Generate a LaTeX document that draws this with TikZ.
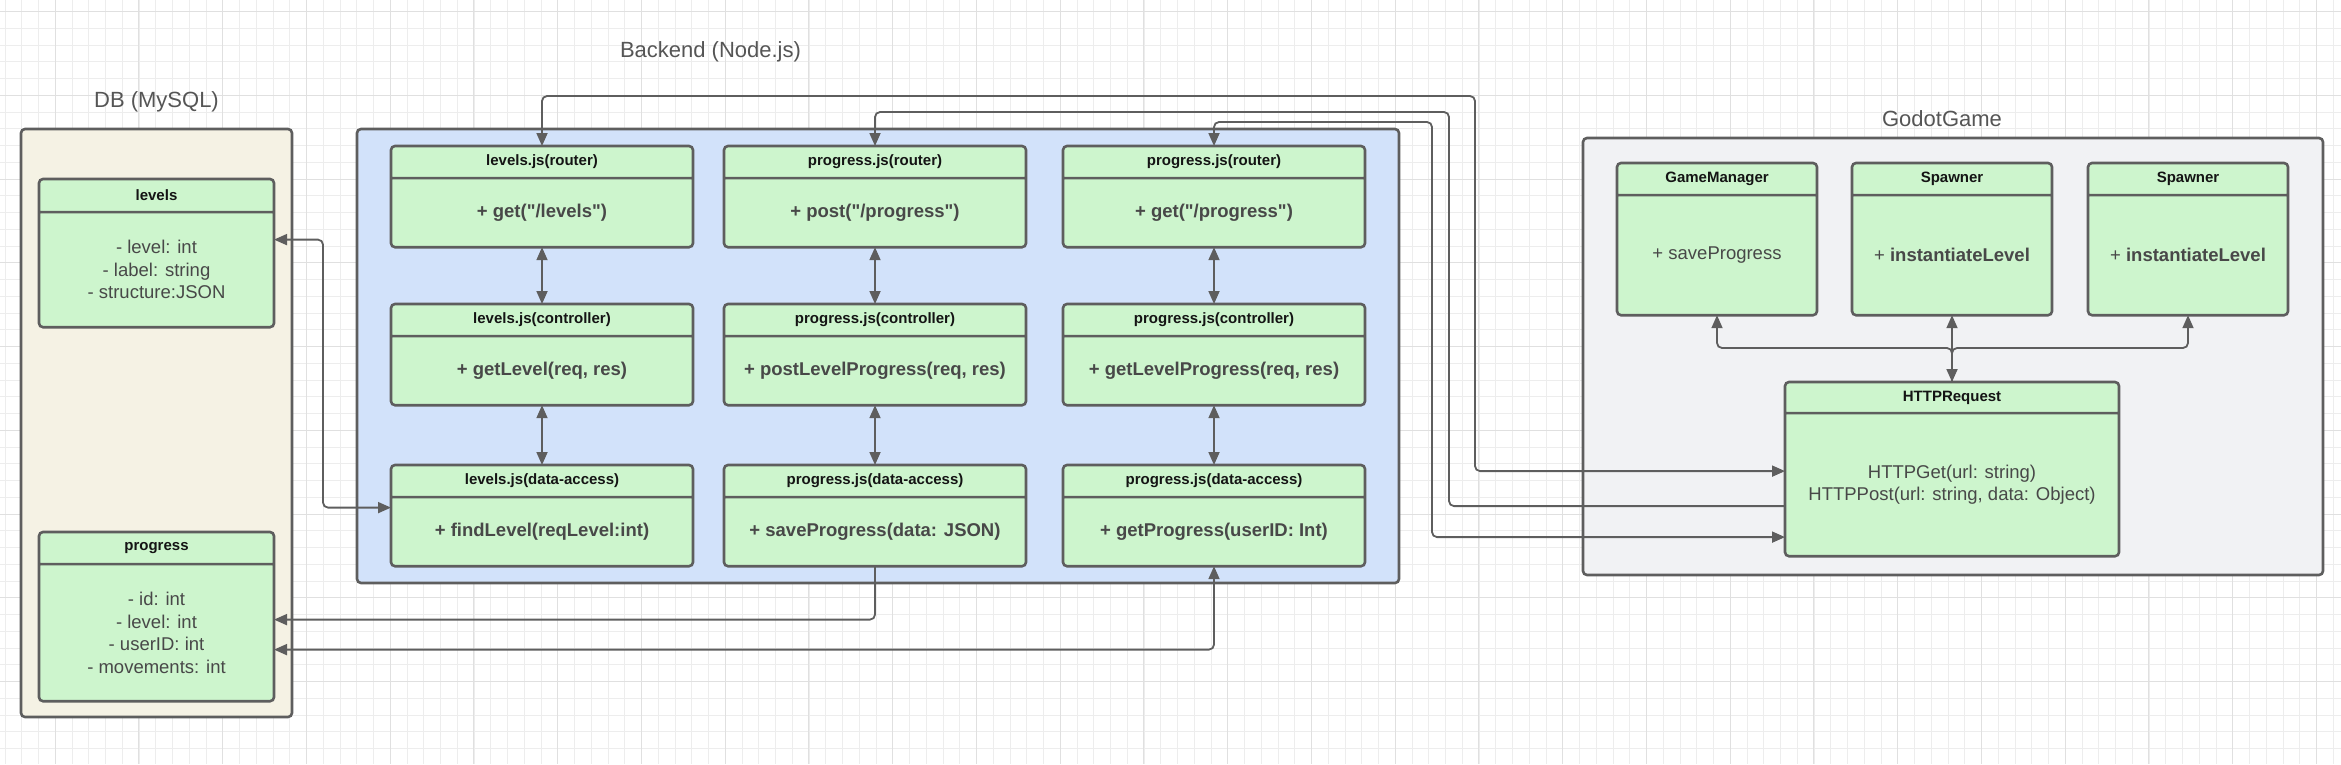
\documentclass[tikz,border=0pt]{standalone}
\usepackage{fontspec}
\setmainfont{Liberation Sans}[Ligatures=TeXOff]
\usepackage{tikz}
\usetikzlibrary{shapes.multipart,arrows.meta}

\definecolor{linegray}{RGB}{94,94,94}
\definecolor{boxgreen}{RGB}{205,245,205}
\definecolor{dbfill}{RGB}{245,242,228}
\definecolor{befill}{RGB}{210,226,250}
\definecolor{gdfill}{RGB}{241,242,244}
\definecolor{headtext}{RGB}{20,20,20}
\definecolor{bodytext}{RGB}{72,72,72}
\definecolor{titletext}{RGB}{85,85,85}
\definecolor{gridminor}{RGB}{237,237,237}
\definecolor{gridmajor}{RGB}{224,224,224}

% width, header height, body height, header, body
\newcommand{\umlparts}[5]{%
\parbox[c][#2pt][c]{#1pt}{\centering\fontsize{15}{18}\selectfont\bfseries\color{headtext}#4}%
\nodepart{two}%
\parbox[c][#3pt][c]{#1pt}{\centering\fontsize{18.5}{22.5}\selectfont\color{bodytext}#5}}

\begin{document}
\begin{tikzpicture}[x=1pt,y=-1pt,>={Triangle[length=13pt,width=11pt]},
every node/.style={inner sep=0pt,outer sep=0pt},
umlclass/.style={rectangle split,rectangle split parts=2,draw=linegray,fill=boxgreen,line width=2.6pt,rounded corners=4pt,anchor=north west},
container/.style={draw=linegray,line width=2.6pt,rounded corners=4pt,anchor=north west},
grouptitle/.style={text=titletext,font=\fontsize{22}{26}\selectfont},
conn/.style={draw=linegray,line width=1.8pt,rounded corners=5pt}]
\useasboundingbox (0,0) rectangle (2341,764);

% background grid
\foreach \i in {0,...,139} \draw[gridminor,line width=1pt] ({5+16.75*\i},0) -- ++(0,764);
\foreach \j in {0,...,45} \draw[gridminor,line width=1pt] (0,{11.7+16.75*\j}) -- ++(2341,0);
\foreach \i in {0,...,27} \draw[gridmajor,line width=1pt] ({55+83.75*\i},0) -- ++(0,764);
\foreach \j in {0,...,8} \draw[gridmajor,line width=1pt] (0,{11.7+83.75*\j}) -- ++(2341,0);

\path (21,129) node (db) [container,fill=dbfill,minimum width=271pt,minimum height=588pt] {};
\path (357,129) node (backend) [container,fill=befill,minimum width=1042pt,minimum height=454pt] {};
\path (1583,138) node (godot) [container,fill=gdfill,minimum width=740pt,minimum height=437pt] {};

\path (156.5,102) node (dbtitle) [grouptitle] {DB (MySQL)};
\path (710.5,52) node (betitle) [grouptitle] {Backend (Node.js)};
\path (1942,119) node (gdtitle) [grouptitle] {GodotGame};

% DB
\path (39,179) node (levels) [umlclass] {\umlparts{235}{30.5}{112.5}{levels}{- level: int\\- label: string\\- structure:JSON}};
\path (39,532) node (progress) [umlclass] {\umlparts{235}{29.5}{134.5}{progress}{- id: int\\- level: int\\- userID: int\\- movements: int}};

% Backend
\path (391,146) node (lvrouter) [umlclass] {\umlparts{302}{29.5}{66.5}{levels.js(router)}{\bfseries + get("/levels")}};
\path (724,146) node (pgrouter1) [umlclass] {\umlparts{302}{29.5}{66.5}{progress.js(router)}{\bfseries + post("/progress")}};
\path (1063,146) node (pgrouter2) [umlclass] {\umlparts{302}{29.5}{66.5}{progress.js(router)}{\bfseries + get("/progress")}};
\path (391,304) node (lvctrl) [umlclass] {\umlparts{302}{29.5}{66.5}{levels.js(controller)}{\bfseries + getLevel(req, res)}};
\path (724,304) node (pgctrl1) [umlclass] {\umlparts{302}{29.5}{66.5}{progress.js(controller)}{\bfseries + postLevelProgress(req, res)}};
\path (1063,304) node (pgctrl2) [umlclass] {\umlparts{302}{29.5}{66.5}{progress.js(controller)}{\bfseries + getLevelProgress(req, res)}};
\path (391,465) node (lvdata) [umlclass] {\umlparts{302}{29.5}{66.5}{levels.js(data-access)}{\bfseries + findLevel(reqLevel:int)}};
\path (724,465) node (pgdata1) [umlclass] {\umlparts{302}{29.5}{66.5}{progress.js(data-access)}{\bfseries + saveProgress(data: JSON)}};
\path (1063,465) node (pgdata2) [umlclass] {\umlparts{302}{29.5}{66.5}{progress.js(data-access)}{\bfseries + getProgress(userID: Int)}};

% GodotGame
\path (1617,163) node (gamemgr) [umlclass] {\umlparts{200}{29.5}{117.5}{GameManager}{+ saveProgress}};
\path (1852,163) node (spawner1) [umlclass] {\umlparts{200}{29.5}{117.5}{Spawner}{+ \textbf{instantiateLevel}}};
\path (2088,163) node (spawner2) [umlclass] {\umlparts{200}{29.5}{117.5}{Spawner}{+ \textbf{instantiateLevel}}};
\path (1785,382) node (httpreq) [umlclass] {\umlparts{334}{28.5}{140.5}{HTTPRequest}{HTTPGet(url: string)\\HTTPPost(url: string, data: Object)}};

\draw [conn,<->] (lvrouter) -- (lvctrl);
\draw [conn,<->] (lvctrl) -- (lvdata);
\draw [conn,<->] (pgrouter1) -- (pgctrl1);
\draw [conn,<->] (pgctrl1) -- (pgdata1);
\draw [conn,<->] (pgrouter2) -- (pgctrl2);
\draw [conn,<->] (pgctrl2) -- (pgdata2);

\draw [conn,<->] ([yshift=13.5pt]levels.east) -- ++(49,0) |- ([yshift=8pt]lvdata.west);
\draw [conn,->] (pgdata1.south) |- ([yshift=-3pt]progress.east);
\draw [conn,<->] (pgdata2.south) |- ([yshift=-33pt]progress.east);

\draw [conn,<->] (lvrouter.north) |- (1475,96) |- ([yshift=-2pt]httpreq.west);
\draw [conn,<-] (pgrouter1.north) |- (1449,112) |- ([yshift=-37pt]httpreq.west);
\draw [conn,<->] (pgrouter2.north) |- (1432,122) |- ([yshift=-68pt]httpreq.west);

\draw [conn,<->] (spawner1) -- (httpreq);
\draw [conn,->] (httpreq.north) -- ++(0,-34) -| (gamemgr.south);
\draw [conn,->] (httpreq.north) -- ++(0,-34) -| (spawner2.south);
\end{tikzpicture}
\end{document}
